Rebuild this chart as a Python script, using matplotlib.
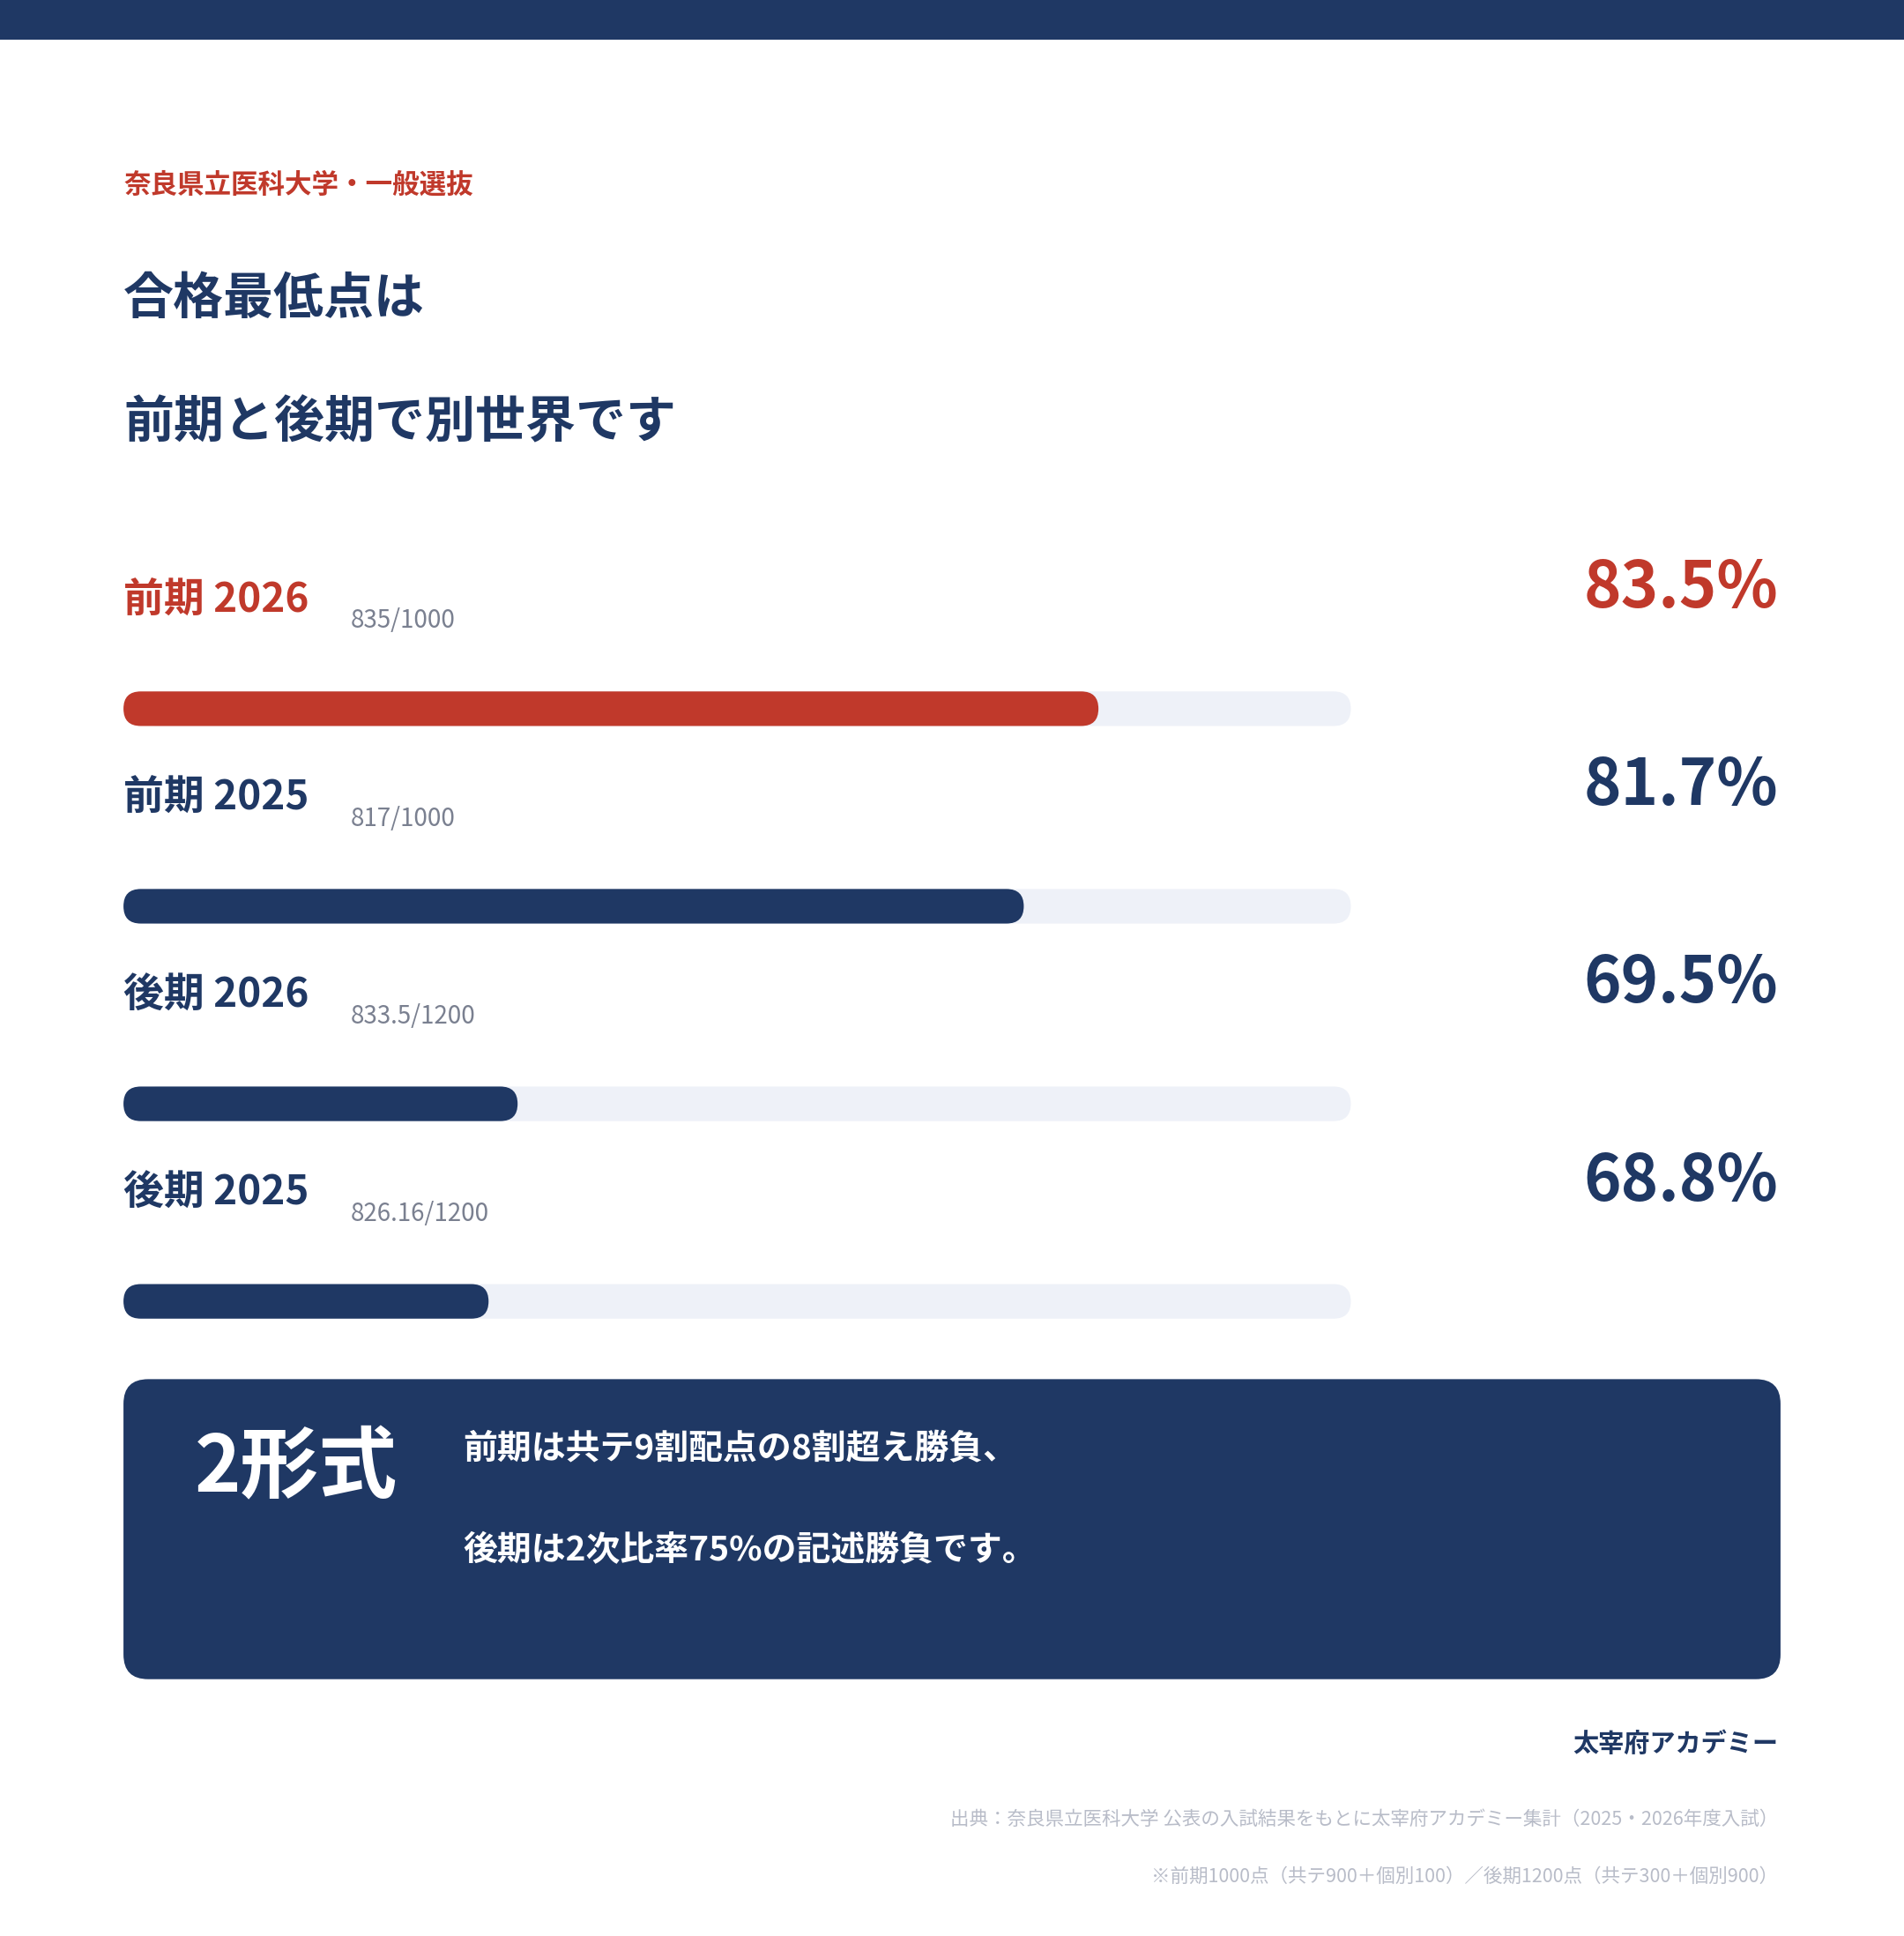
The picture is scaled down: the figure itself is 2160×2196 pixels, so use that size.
import matplotlib
matplotlib.use("Agg")
import matplotlib.pyplot as plt
from matplotlib.patches import FancyBboxPatch, Rectangle

plt.rcParams['font.family'] = ['Noto Sans CJK JP', 'DejaVu Sans']

labels = ["前期 2026", "前期 2025", "後期 2026", "後期 2025"]
scores = ["835/1000", "817/1000", "833.5/1200", "826.16/1200"]
percents = [83.5, 81.7, 69.5, 68.8]
scale_min, scale_max = 60, 90

NAVY = "#1F3864"
RED = "#C0392B"
TRACK = "#EEF1F8"

W, H = 1542, 1568
fig = plt.figure(figsize=(21.6, 21.96), dpi=100)
ax = fig.add_axes([0, 0, 1, 1])
ax.set_xlim(0, W)
ax.set_ylim(H, 0)
ax.axis("off")

ax.add_patch(Rectangle((0, 0), W, 32, color=NAVY, lw=0))

ax.text(100, 150, "奈良県立医科大学・一般選抜", color=RED, fontsize=22, fontweight="bold", va="center")
ax.text(100, 242, "合格最低点は", color=NAVY, fontsize=41, fontweight="bold", va="center")
ax.text(100, 342, "前期と後期で別世界です", color=NAVY, fontsize=41, fontweight="bold", va="center")

x0, x1 = 100, 1108
bh = 28
for i, (lab, sc, p) in enumerate(zip(labels, scores, percents)):
    ytop = 487 + 160 * i
    ybar = 574 + 160 * i
    col = RED if i == 0 else NAVY
    ax.text(100, ytop, lab, color=col, fontsize=33, fontweight="bold", va="center")
    ax.text(284, ytop + 16, sc, color="#7A8090", fontsize=20, va="center")
    ax.text(1440, ytop - 10, f"{p}%", color=col, fontsize=52, fontweight="bold", va="center", ha="right")
    ax.add_patch(FancyBboxPatch((x0 + bh / 2, ybar - bh / 2), (x1 - x0) - bh, bh,
                                boxstyle=f"round,pad=0,rounding_size={bh/2}", fc=TRACK, ec="none"))
    frac = (p - scale_min) / (scale_max - scale_min)
    xe = x0 + frac * (x1 - x0)
    ax.add_patch(FancyBboxPatch((x0, ybar - bh / 2), xe - x0, bh,
                                boxstyle=f"round,pad=0,rounding_size={bh/2}", fc=col, ec="none"))

ax.add_patch(FancyBboxPatch((100, 1117), 1342, 243,
                            boxstyle="round,pad=0,rounding_size=20", fc=NAVY, ec="none"))
ax.text(158, 1190, "2形式", color="white", fontsize=64, fontweight="bold", va="center")
ax.text(375, 1174, "前期は共テ9割配点の8割超え勝負、", color="white", fontsize=28, fontweight="bold", va="center")
ax.text(375, 1256, "後期は2次比率75%の記述勝負です。", color="white", fontsize=28, fontweight="bold", va="center")

ax.text(1440, 1412, "太宰府アカデミー", color=NAVY, fontsize=21, fontweight="bold", va="center", ha="right")
ax.text(1440, 1474, "出典：奈良県立医科大学 公表の入試結果をもとに太宰府アカデミー集計（2025・2026年度入試）",
        color="#B8BCC8", fontsize=15.5, va="center", ha="right")
ax.text(1440, 1520, "※前期1000点（共テ900＋個別100）／後期1200点（共テ300＋個別900）",
        color="#B8BCC8", fontsize=15.5, va="center", ha="right")

fig.savefig("out.png", dpi=100, facecolor="white")
